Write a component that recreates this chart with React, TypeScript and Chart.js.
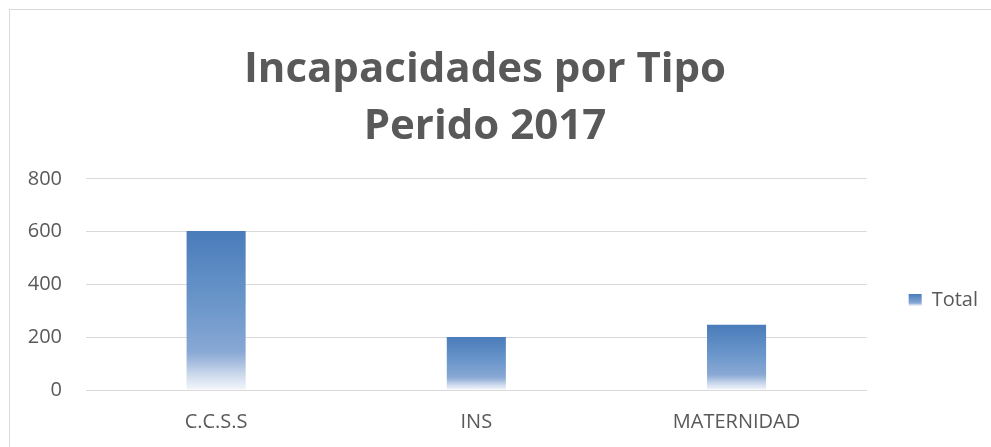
import { useEffect, useRef } from "react";
import { Chart, registerables } from "chart.js";

Chart.register(...registerables);

const categories = ["C.C.S.S", "INS", "MATERNIDAD"];
const totals = [602, 201, 247];
const yTicks = [0, 200, 400, 600, 800];
const seriesLabel = "Total";
const titleLines = ["Incapacidades por Tipo", "Perido 2017"];

const FONT = "'Open Sans', sans-serif";
const TEXT = "#595959";
const GRID = "#d9d9d9";
const LEGEND_TITLE_H = 31;

const stops: [number, string][] = [
  [0, "#4a7cba"],
  [0.45, "#6a96ca"],
  [0.76, "#89a8d4"],
  [0.82, "#a3bbdd"],
  [0.9, "#cbd8ec"],
  [1, "#f4f7fb"],
];

function makeGradient(ctx: CanvasRenderingContext2D, top: number, bottom: number) {
  const g = ctx.createLinearGradient(0, top, 0, bottom);
  stops.forEach(([o, c]) => g.addColorStop(o, c));
  return g;
}

export default function App() {
  const ref = useRef<HTMLCanvasElement>(null);

  useEffect(() => {
    document.body.style.margin = "0";
    document.body.style.overflow = "hidden";
    const canvas = ref.current!;
    const chart = new Chart(canvas, {
      type: "bar",
      data: {
        labels: categories,
        datasets: [
          {
            label: seriesLabel,
            data: totals,
            borderWidth: 0,
            barPercentage: 0.227,
            categoryPercentage: 1,
            backgroundColor: (c: any) => {
              const ch = c.chart;
              if (!ch.chartArea || c.type !== "data") return stops[0][1];
              const ys = ch.scales.y;
              const top = ys.getPixelForValue(c.raw as number);
              const bottom = ys.getPixelForValue(0);
              return makeGradient(ch.ctx, top, bottom);
            },
          },
        ],
      },
      options: {
        responsive: false,
        animation: false,
        layout: { padding: { left: 0, right: 3, top: 0, bottom: 13 } },
        plugins: {
          title: {
            display: true,
            text: titleLines,
            color: TEXT,
            font: { family: FONT, size: 42, weight: "bold", lineHeight: 1.367 },
            padding: { top: 41, bottom: 23 },
          },
          legend: {
            position: "right",
            fullSize: false,
            align: "center",
            title: {
              display: true,
              text: " ",
              padding: 0,
              font: { family: FONT, size: 20, lineHeight: LEGEND_TITLE_H / 20 },
            },
            labels: {
              boxWidth: 13,
              boxHeight: 12,
              padding: 42,
              color: TEXT,
              font: { family: FONT, size: 20 },
              generateLabels: (ch: any) => {
                const items = (Chart.defaults.plugins.legend.labels as any).generateLabels(ch);
                const lg = ch.legend;
                items.forEach((it: any) => {
                  it.lineWidth = 0;
                  it.strokeStyle = "rgba(0,0,0,0)";
                  if (lg && typeof lg.top === "number" && lg.bottom > lg.top) {
                    const cy = (lg.top + lg.bottom + LEGEND_TITLE_H) / 2;
                    it.fillStyle = makeGradient(ch.ctx, cy - 6, cy + 6);
                  } else {
                    it.fillStyle = stops[0][1];
                  }
                });
                return items;
              },
            },
          },
          tooltip: { enabled: false },
        },
        scales: {
          x: {
            grid: { display: false, drawTicks: false },
            border: { display: true, color: GRID, width: 1 },
            ticks: { color: TEXT, font: { family: FONT, size: 20 }, padding: 20 },
          },
          y: {
            min: 0,
            max: 800,
            afterBuildTicks: (s: any) => {
              s.ticks = yTicks.map((v) => ({ value: v }));
            },
            afterFit: (s: any) => {
              s.width = 104;
            },
            grid: { color: GRID, drawTicks: false, lineWidth: 1 },
            border: { display: false },
            ticks: { color: TEXT, font: { family: FONT, size: 20 }, padding: 24 },
          },
        },
      },
    });
    return () => chart.destroy();
  }, []);

  return (
    <div style={{ position: "relative", width: 991, height: 447, overflow: "hidden", background: "#fff" }}>
      <div
        style={{
          position: "absolute",
          left: 9,
          top: 9,
          width: 1000,
          height: 500,
          borderLeft: "1px solid #d9d9d9",
          borderTop: "1px solid #d9d9d9",
        }}
      />
      <canvas ref={ref} width={1009} height={467} style={{ position: "absolute", left: -18, top: 0 }} />
    </div>
  );
}
